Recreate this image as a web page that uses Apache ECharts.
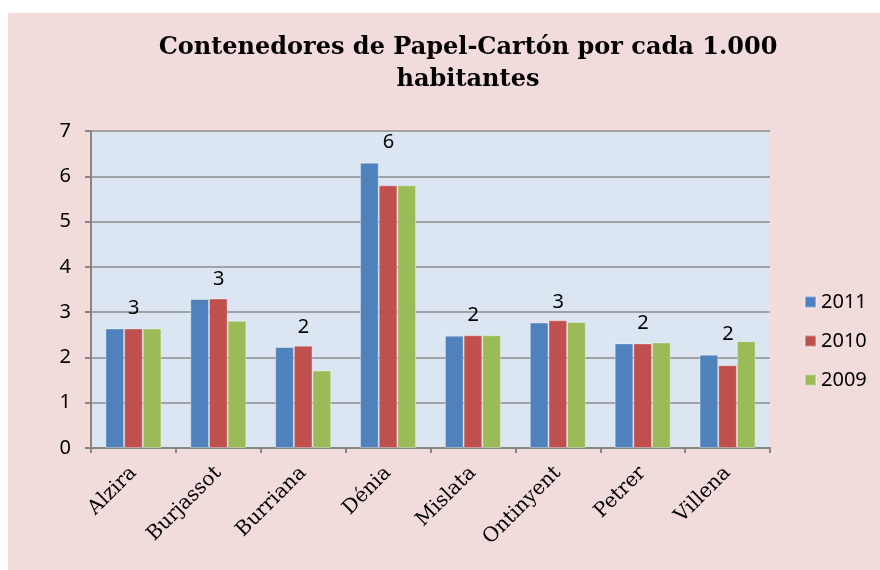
<!DOCTYPE html>
<html>
<head>
<meta charset="utf-8">
<script src="https://cdn.jsdelivr.net/npm/echarts@6/dist/echarts.min.js"></script>
<style>
  html, body { margin: 0; padding: 0; background: #ffffff; }
  #chart { position: absolute; left: 8px; top: 13px; width: 872px; height: 557px; }
</style>
</head>
<body>
<div id="chart"></div>
<script>
// municipios
const categories = ['Alzira', 'Burjassot', 'Burriana', 'Dénia', 'Mislata', 'Ontinyent', 'Petrer', 'Villena'];

// contenedores por cada 1.000 habitantes
const values2011 = [2.64, 3.29, 2.23, 6.30, 2.48, 2.77, 2.31, 2.06];
const values2010 = [2.64, 3.30, 2.26, 5.80, 2.49, 2.82, 2.31, 1.83];
const values2009 = [2.64, 2.81, 1.71, 5.80, 2.49, 2.78, 2.33, 2.36];

const yTicks = [0, 1, 2, 3, 4, 5, 6, 7];

const chart = echarts.init(document.getElementById('chart'));

const barBase = {
  type: 'bar',
  barGap: '0%',
  barCategoryGap: '34%',
};

chart.setOption({
  backgroundColor: '#f2dcdb',
  animation: false,
  title: {
    text: 'Contenedores de Papel-Cartón por cada 1.000\nhabitantes',
    left: 455,
    top: 14,
    textAlign: 'center',
    textStyle: {
      fontFamily: 'DejaVu Serif',
      fontWeight: 'bold',
      fontSize: 24,
      lineHeight: 32,
      color: '#000000',
    },
  },
  legend: {
    orient: 'vertical',
    left: 791,
    top: 274,
    itemWidth: 11,
    itemHeight: 11,
    itemGap: 19,
    icon: 'rect',
    textStyle: {
      fontFamily: 'Noto Sans',
      fontSize: 20,
      color: '#000000',
    },
    data: ['2011', '2010', '2009'],
  },
  grid: {
    left: 83,
    right: 110,
    top: 118,
    bottom: 122,
    show: true,
    backgroundColor: '#dce6f2',
    borderWidth: 0,
  },
  xAxis: {
    type: 'category',
    data: categories,
    axisLine: { lineStyle: { color: '#868686', width: 2 } },
    axisTick: { show: true, length: 5, lineStyle: { color: '#868686', width: 2 } },
    axisLabel: {
      rotate: 45,
      margin: 22,
      fontFamily: 'DejaVu Serif',
      fontSize: 20,
      color: '#000000',
    },
  },
  yAxis: {
    type: 'value',
    min: yTicks[0],
    max: yTicks[yTicks.length - 1],
    interval: 1,
    axisLine: { show: true, lineStyle: { color: '#868686', width: 2 } },
    axisTick: { show: true, length: 6, lineStyle: { color: '#868686', width: 2 } },
    splitLine: { lineStyle: { color: '#8c8c8c', width: 1.5 } },
    axisLabel: {
      margin: 20,
      fontFamily: 'Noto Sans',
      fontSize: 20,
      color: '#000000',
    },
  },
  series: [
    {
      ...barBase,
      name: '2011',
      data: values2011,
      itemStyle: { color: '#4f81bd', borderColor: 'rgba(255,255,255,0.35)', borderWidth: 1 },
      label: {
        show: true,
        position: 'top',
        distance: 10,
        offset: [19, 0],
        fontFamily: 'Noto Sans',
        fontSize: 20,
        color: '#000000',
        formatter: (p) => Math.round(p.value),
      },
    },
    {
      ...barBase,
      name: '2010',
      data: values2010,
      itemStyle: { color: '#c0504d', borderColor: 'rgba(255,255,255,0.35)', borderWidth: 1 },
    },
    {
      ...barBase,
      name: '2009',
      data: values2009,
      itemStyle: { color: '#9bbb59', borderColor: 'rgba(255,255,255,0.35)', borderWidth: 1 },
    },
  ],
});
</script>
</body>
</html>
